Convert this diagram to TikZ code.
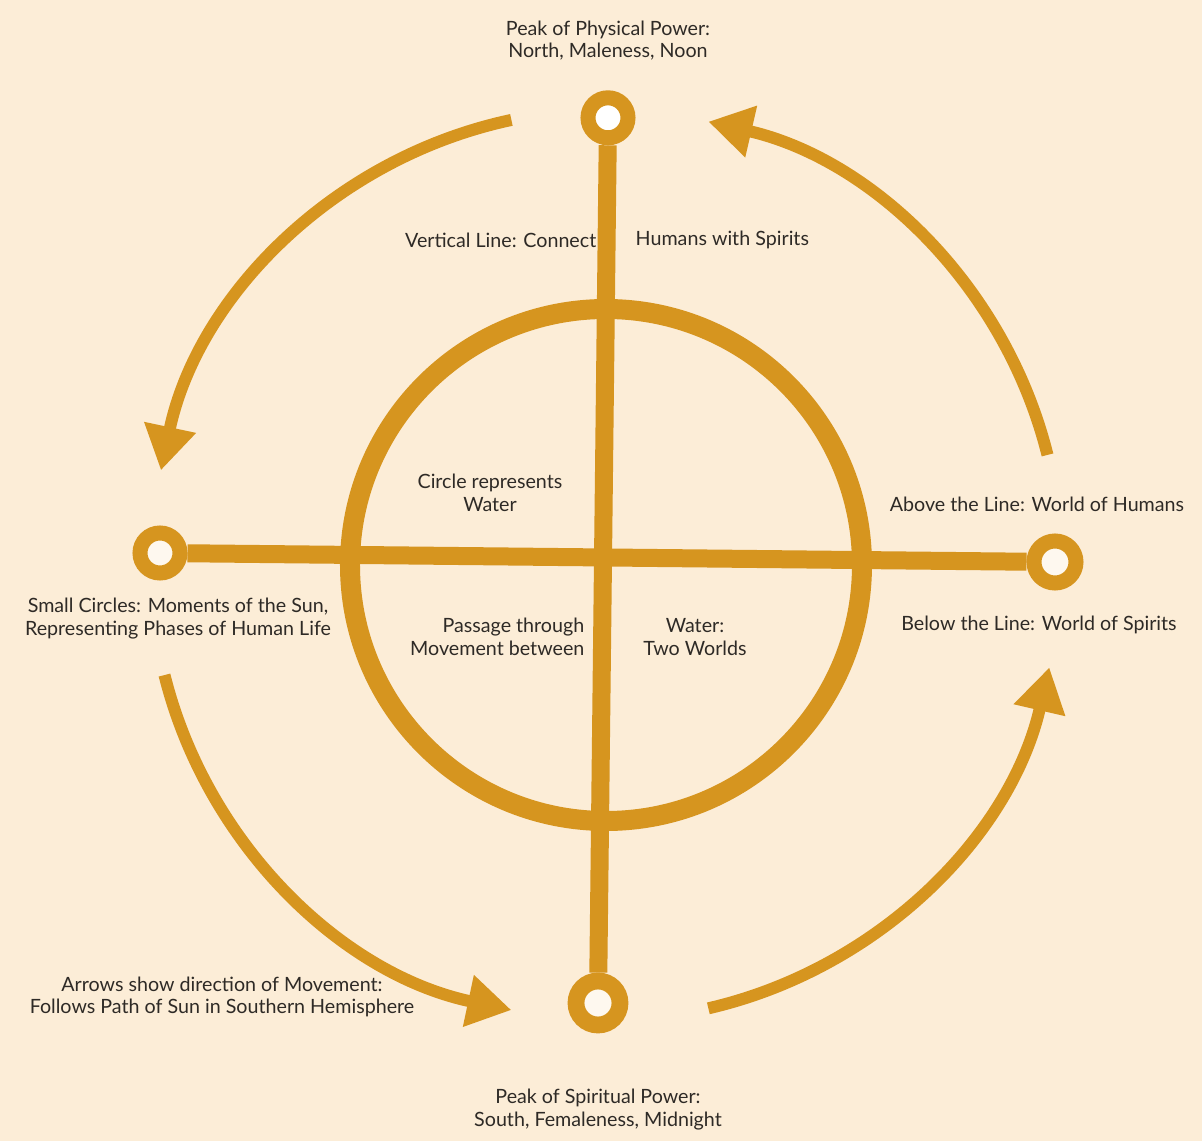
\documentclass[tikz,border=0pt]{standalone}
\usepackage{fontspec}
\setmainfont{Lato}
\usetikzlibrary{positioning, arrows.meta}

\definecolor{ochre}{HTML}{D6951F}
\definecolor{parchment}{HTML}{FCEDD7}
\definecolor{ink}{HTML}{2E2A26}

\begin{document}
\begin{tikzpicture}[
	sun/.style={circle, draw=ochre, line width=0.375cm, fill=white, minimum size=1cm, inner sep=0pt},
	bar/.style={ochre, line width=0.45cm},
	ring/.style={circle, draw=ochre, line width=0.5cm, minimum size=12.8cm, inner sep=0pt},
	sunpath/.style={ochre, line width=0.3cm, -{Triangle[length=1.1cm, width=1.25cm]}},
	note/.style={text=ink, align=center, inner sep=1pt, font=\fontsize{14}{16}\selectfont}
	]

	\fill[parchment] (-15.15,-14.4) rectangle (14.9,14.125);
	\useasboundingbox (-15.15,-14.4) rectangle (14.9,14.125);

	\node[ring] (water) at (0,0) {};
	\node[sun] (noon) at (0.05,11.18) {};
	\node[sun, minimum size=1.1cm, line width=0.42cm, fill=parchment!40] (midnight) at (-0.2,-10.95) {};
	\node[sun, fill=parchment!40] (dusk) at (-11.15,0.3) {};
	\node[sun, minimum size=1.05cm, fill=parchment!40] (dawn) at (11.225,0.075) {};

	\draw[bar] (noon) -- (midnight);
	\draw[bar] (dusk) -- (dawn);

	\draw[sunpath] (water.center) ++(14:11.375) arc[start angle=14, end angle=77, radius=11.375];
	\draw[sunpath] (water.center) ++(102:11.375) arc[start angle=102, end angle=168, radius=11.375];
	\draw[sunpath] (water.center) ++(194:11.375) arc[start angle=194, end angle=258, radius=11.375];
	\draw[sunpath] (water.center) ++(283:11.375) arc[start angle=283, end angle=347, radius=11.375];

	\node[note, above=0.7cm of noon] (peakN) {Peak of Physical Power:\\North, Maleness, Noon};
	\node[note, below=1.35cm of midnight] (peakS) {Peak of Spiritual Power:\\South, Femaleness, Midnight};
	\node[note, anchor=east] (vline) at (-0.2,8.125) {Vertical Line: Connect};
	\node[note, anchor=west] (vlink) at (0.7,8.125) {Humans with Spirits};
	\node[note] (circ) at (-2.9,1.8) {Circle represents\\Water};
	\node[note, align=right, anchor=east] (passage) at (-0.5,-1.8) {Passage through\\Movement between};
	\node[note] (worlds) at (2.225,-1.8) {Water:\\Two Worlds};
	\node[note, above=0.5cm of dawn, xshift=-0.45cm] (above) {Above the Line: World of Humans};
	\node[note, below=0.6cm of dawn, xshift=-0.4cm] (below) {Below the Line: World of Spirits};
	\node[note, below=0.4cm of dusk, xshift=0.45cm] (phases) {Small Circles: Moments of the Sun,\\Representing Phases of Human Life};
	\node[note] (arrows) at (-9.6,-10.8) {Arrows show direction of Movement:\\Follows Path of Sun in Southern Hemisphere};

\end{tikzpicture}
\end{document}
